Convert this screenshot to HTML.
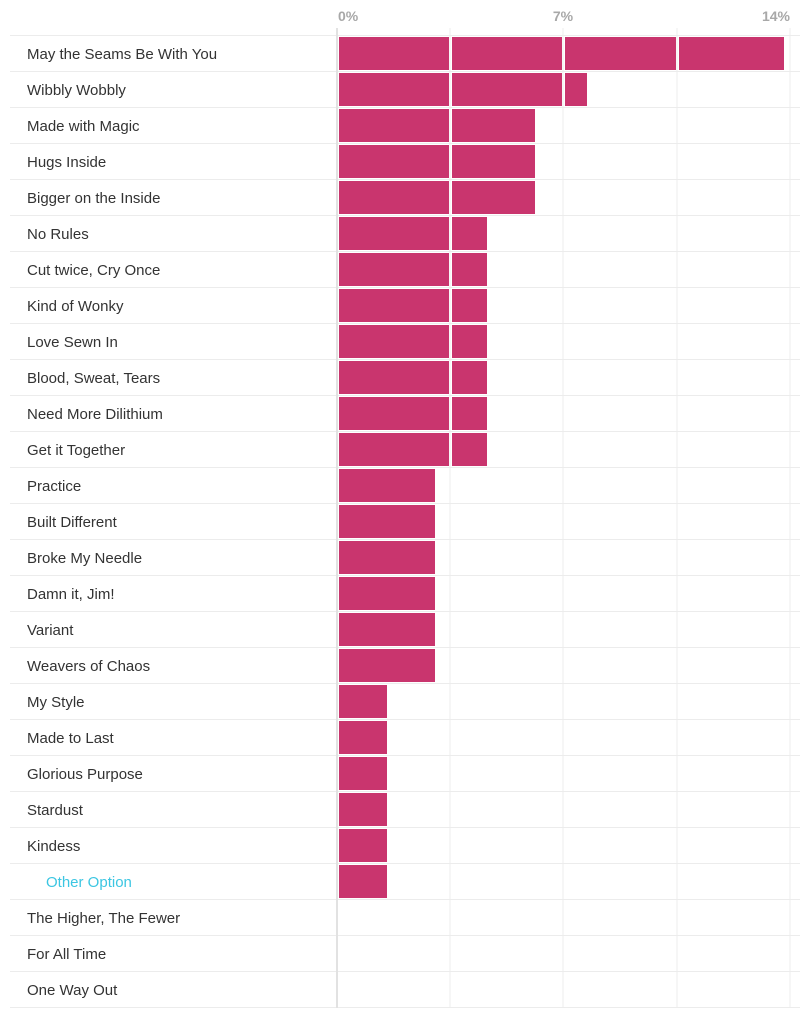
<!DOCTYPE html>
<html><head><meta charset="utf-8"><style>
html,body{margin:0;padding:0;background:#fff;}
svg{display:block;font-family:"Liberation Sans",sans-serif;}
.l{font-size:15px;fill:#333;}
.o{font-size:15px;fill:#3cc6e2;}
.b{fill:#c9356e;}
</style></head><body>
<svg width="800" height="1016" viewBox="0 0 800 1016" xmlns="http://www.w3.org/2000/svg">
<g font-size="14" font-weight="bold" fill="#a8a8a8">
<text x="338" y="21">0%</text>
<text x="563" y="21" text-anchor="middle">7%</text>
<text x="790" y="21" text-anchor="end">14%</text>
</g>
<g fill="#ececec">
<rect x="449.5" y="28" width="1" height="980"/><rect x="562.5" y="28" width="1" height="980"/><rect x="676.5" y="28" width="1" height="980"/><rect x="789.5" y="28" width="1" height="980"/>
<rect x="10" y="35" width="790" height="1"/><rect x="10" y="71" width="790" height="1"/><rect x="10" y="107" width="790" height="1"/><rect x="10" y="143" width="790" height="1"/><rect x="10" y="179" width="790" height="1"/><rect x="10" y="215" width="790" height="1"/><rect x="10" y="251" width="790" height="1"/><rect x="10" y="287" width="790" height="1"/><rect x="10" y="323" width="790" height="1"/><rect x="10" y="359" width="790" height="1"/><rect x="10" y="395" width="790" height="1"/><rect x="10" y="431" width="790" height="1"/><rect x="10" y="467" width="790" height="1"/><rect x="10" y="503" width="790" height="1"/><rect x="10" y="539" width="790" height="1"/><rect x="10" y="575" width="790" height="1"/><rect x="10" y="611" width="790" height="1"/><rect x="10" y="647" width="790" height="1"/><rect x="10" y="683" width="790" height="1"/><rect x="10" y="719" width="790" height="1"/><rect x="10" y="755" width="790" height="1"/><rect x="10" y="791" width="790" height="1"/><rect x="10" y="827" width="790" height="1"/><rect x="10" y="863" width="790" height="1"/><rect x="10" y="899" width="790" height="1"/><rect x="10" y="935" width="790" height="1"/><rect x="10" y="971" width="790" height="1"/><rect x="10" y="1007" width="790" height="1"/>
</g>
<rect x="336" y="28" width="2" height="980" fill="#e2e2e2"/>

<g transform="translate(0,36)"><text class="l" x="27" y="23">May the Seams Be With You</text><rect class="b" x="339" y="1" width="110" height="33"/><rect class="b" x="452" y="1" width="110" height="33"/><rect class="b" x="565" y="1" width="111" height="33"/><rect class="b" x="679" y="1" width="105" height="33"/></g>
<g transform="translate(0,72)"><text class="l" x="27" y="23">Wibbly Wobbly</text><rect class="b" x="339" y="1" width="110" height="33"/><rect class="b" x="452" y="1" width="110" height="33"/><rect class="b" x="565" y="1" width="22" height="33"/></g>
<g transform="translate(0,108)"><text class="l" x="27" y="23">Made with Magic</text><rect class="b" x="339" y="1" width="110" height="33"/><rect class="b" x="452" y="1" width="83" height="33"/></g>
<g transform="translate(0,144)"><text class="l" x="27" y="23">Hugs Inside</text><rect class="b" x="339" y="1" width="110" height="33"/><rect class="b" x="452" y="1" width="83" height="33"/></g>
<g transform="translate(0,180)"><text class="l" x="27" y="23">Bigger on the Inside</text><rect class="b" x="339" y="1" width="110" height="33"/><rect class="b" x="452" y="1" width="83" height="33"/></g>
<g transform="translate(0,216)"><text class="l" x="27" y="23">No Rules</text><rect class="b" x="339" y="1" width="110" height="33"/><rect class="b" x="452" y="1" width="35" height="33"/></g>
<g transform="translate(0,252)"><text class="l" x="27" y="23">Cut twice, Cry Once</text><rect class="b" x="339" y="1" width="110" height="33"/><rect class="b" x="452" y="1" width="35" height="33"/></g>
<g transform="translate(0,288)"><text class="l" x="27" y="23">Kind of Wonky</text><rect class="b" x="339" y="1" width="110" height="33"/><rect class="b" x="452" y="1" width="35" height="33"/></g>
<g transform="translate(0,324)"><text class="l" x="27" y="23">Love Sewn In</text><rect class="b" x="339" y="1" width="110" height="33"/><rect class="b" x="452" y="1" width="35" height="33"/></g>
<g transform="translate(0,360)"><text class="l" x="27" y="23">Blood, Sweat, Tears</text><rect class="b" x="339" y="1" width="110" height="33"/><rect class="b" x="452" y="1" width="35" height="33"/></g>
<g transform="translate(0,396)"><text class="l" x="27" y="23">Need More Dilithium</text><rect class="b" x="339" y="1" width="110" height="33"/><rect class="b" x="452" y="1" width="35" height="33"/></g>
<g transform="translate(0,432)"><text class="l" x="27" y="23">Get it Together</text><rect class="b" x="339" y="1" width="110" height="33"/><rect class="b" x="452" y="1" width="35" height="33"/></g>
<g transform="translate(0,468)"><text class="l" x="27" y="23">Practice</text><rect class="b" x="339" y="1" width="96" height="33"/></g>
<g transform="translate(0,504)"><text class="l" x="27" y="23">Built Different</text><rect class="b" x="339" y="1" width="96" height="33"/></g>
<g transform="translate(0,540)"><text class="l" x="27" y="23">Broke My Needle</text><rect class="b" x="339" y="1" width="96" height="33"/></g>
<g transform="translate(0,576)"><text class="l" x="27" y="23">Damn it, Jim!</text><rect class="b" x="339" y="1" width="96" height="33"/></g>
<g transform="translate(0,612)"><text class="l" x="27" y="23">Variant</text><rect class="b" x="339" y="1" width="96" height="33"/></g>
<g transform="translate(0,648)"><text class="l" x="27" y="23">Weavers of Chaos</text><rect class="b" x="339" y="1" width="96" height="33"/></g>
<g transform="translate(0,684)"><text class="l" x="27" y="23">My Style</text><rect class="b" x="339" y="1" width="48" height="33"/></g>
<g transform="translate(0,720)"><text class="l" x="27" y="23">Made to Last</text><rect class="b" x="339" y="1" width="48" height="33"/></g>
<g transform="translate(0,756)"><text class="l" x="27" y="23">Glorious Purpose</text><rect class="b" x="339" y="1" width="48" height="33"/></g>
<g transform="translate(0,792)"><text class="l" x="27" y="23">Stardust</text><rect class="b" x="339" y="1" width="48" height="33"/></g>
<g transform="translate(0,828)"><text class="l" x="27" y="23">Kindess</text><rect class="b" x="339" y="1" width="48" height="33"/></g>
<g transform="translate(0,864)"><text class="o" x="46" y="23">Other Option</text><rect class="b" x="339" y="1" width="48" height="33"/></g>
<g transform="translate(0,900)"><text class="l" x="27" y="23">The Higher, The Fewer</text></g>
<g transform="translate(0,936)"><text class="l" x="27" y="23">For All Time</text></g>
<g transform="translate(0,972)"><text class="l" x="27" y="23">One Way Out</text></g>
</svg>
</body></html>
